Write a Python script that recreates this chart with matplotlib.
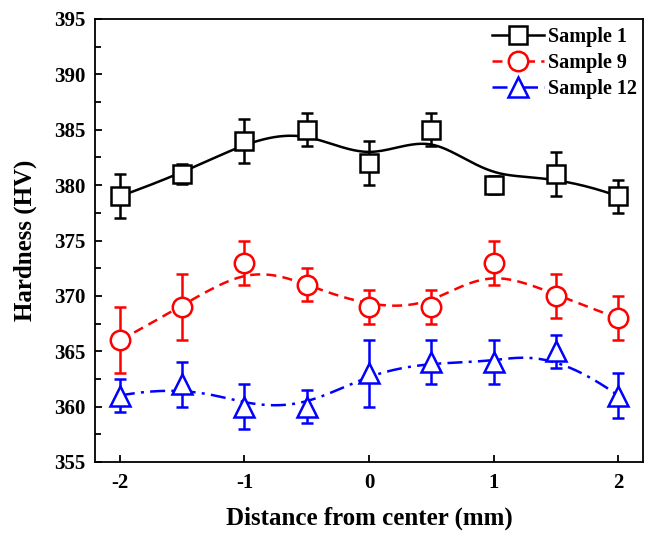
import numpy as np
import matplotlib
matplotlib.use("Agg")
import matplotlib.pyplot as plt
from matplotlib.lines import Line2D

# ---- data ----
distance = [-2, -1.5, -1, -0.5, 0, 0.5, 1, 1.5, 2]
s1 = [379, 381, 384, 385, 382, 385, 380, 381, 379]
s1_err = [2, 0.9, 2, 1.5, 2, 1.5, 0.8, 2, 1.5]
s9 = [366, 369, 373, 371, 369, 369, 373, 370, 368]
s9_err = [3, 3, 2, 1.5, 1.5, 1.5, 2, 2, 2]
s12 = [361, 362, 360, 360, 363, 364, 364, 365, 361]
s12_err = [1.5, 2, 2, 1.5, 3, 2, 2, 1.5, 2]
labels = ["Sample 1", "Sample 9", "Sample 12"]
x_ticks = [-2, -1, 0, 1, 2]
y_ticks = [355, 360, 365, 370, 375, 380, 385, 390, 395]


def bspline(px, py, degree=3, n=300):
    """Clamped uniform B-spline using the data points as control points."""
    px = np.asarray(px, float)
    py = np.asarray(py, float)
    m = len(px)
    k = degree
    inner = np.linspace(0, 1, m - k + 1)
    knots = np.concatenate([np.zeros(k), inner, np.ones(k)])
    t = np.linspace(0, 1, n)
    t[-1] = 1 - 1e-10

    def basis(i, p, tt):
        if p == 0:
            return np.where((knots[i] <= tt) & (tt < knots[i + 1]), 1.0, 0.0)
        a = 0.0
        d1 = knots[i + p] - knots[i]
        if d1 > 0:
            a = (tt - knots[i]) / d1 * basis(i, p - 1, tt)
        b = 0.0
        d2 = knots[i + p + 1] - knots[i + 1]
        if d2 > 0:
            b = (knots[i + p + 1] - tt) / d2 * basis(i + 1, p - 1, tt)
        return a + b

    B = np.array([basis(i, k, t) for i in range(m)])
    return B.T @ px, B.T @ py


plt.rcParams['font.family'] = ['Liberation Serif', 'DejaVu Serif']
plt.rcParams['font.weight'] = 'bold'

fig = plt.figure(figsize=(6.49, 5.34), dpi=100)
ax = fig.add_axes([95 / 649, (534 - 462) / 534, (643 - 95) / 649, (462 - 19) / 534])

series = [
    (s1, s1_err, 'black', 's', '-'),
    (s9, s9_err, '#FF0000', 'o', (0, (4, 2.5))),
    (s12, s12_err, '#0000FF', '^', (0, (6, 2.5, 1.2, 2.5))),
]
msizes = {'s': 13.5, 'o': 14, '^': 15}

handles = []
for (vals, err, col, mk, ls), lab in zip(series, labels):
    cx, cy = bspline(distance, vals)
    ax.plot(cx, cy, color=col, linestyle=ls, linewidth=1.8, zorder=2)
    ax.errorbar(distance, vals, yerr=err, fmt='none', ecolor=col,
                elinewidth=1.8, capsize=4.5, capthick=1.8, zorder=3)
    ax.plot(distance, vals, linestyle='none', marker=mk, markersize=msizes[mk],
            markerfacecolor='white', markeredgecolor=col, markeredgewidth=1.8,
            zorder=4)
    handles.append(Line2D([], [], color=col, linestyle=ls, linewidth=1.8,
                          marker=mk, markersize=msizes[mk],
                          markerfacecolor='white', markeredgecolor=col,
                          markeredgewidth=1.8, label=lab))

ax.set_xlim(-2.2, 2.2)
ax.set_ylim(355, 395)
ax.set_xticks(x_ticks)
ax.set_xticklabels(['-2', '-1', '0', '1', '2'])
ax.set_yticks(y_ticks)
ax.set_yticks(np.arange(357.5, 395, 5), minor=True)

for sp in ax.spines.values():
    sp.set_linewidth(1.3)

ax.tick_params(axis='both', which='major', direction='in', length=5, width=1.3,
               labelsize=15)
ax.tick_params(axis='y', which='minor', direction='in', length=4, width=1.3)
ax.tick_params(axis='x', which='major', pad=8)
ax.tick_params(axis='y', which='major', pad=7)
for lbl in ax.get_xticklabels() + ax.get_yticklabels():
    lbl.set_fontweight('bold')

ax.set_xlabel('Distance from center (mm)', fontsize=18, fontweight='bold',
              labelpad=10)
ax.set_ylabel('Hardness (HV)', fontsize=18, fontweight='bold', labelpad=12)

leg = ax.legend(handles=handles, loc='upper right', bbox_to_anchor=(0.997, 0.99),
                frameon=False,
                prop={'family': 'Liberation Serif', 'weight': 'bold', 'size': 14.5},
                handlelength=2.6, handletextpad=0.2, labelspacing=0.28,
                borderaxespad=0.0, borderpad=0.2)

fig.savefig('out.png', dpi=100)
